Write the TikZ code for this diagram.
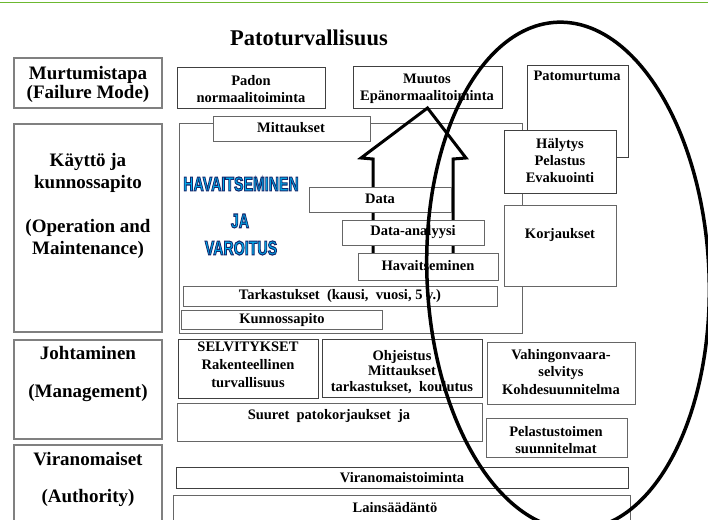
\documentclass[tikz,border=0pt]{standalone}
\usepackage{fontspec}
\usepackage{graphicx}
\setmainfont{Liberation Serif}
\newfontfamily\wafont{Liberation Sans}
\definecolor{topgreen}{RGB}{108,184,48}
\definecolor{wafill}{RGB}{0,176,240}
\definecolor{waline}{RGB}{20,40,110}
\definecolor{sidegray}{RGB}{128,128,128}
\newcommand\wordart[1]{\scalebox{0.71}[1]{\color{wafill}%
  \special{pdf:literal direct 0.08 0.16 0.43 RG 1.1 w 2 Tr}#1\special{pdf:literal direct 0 Tr}}}
\newcommand\bx[6][box]{\node[#1,minimum width={#5-#3},minimum height={#6-#4}] (#2) at (#3,#4) {};}
\begin{document}
\begin{tikzpicture}[x=1pt,y=-1pt,
  box/.style={draw=black!75,line width=0.8pt,fill=white,inner sep=0pt,outer sep=0pt,anchor=north west},
  sidebox/.style={box,draw=sidegray,line width=1.4pt},
  softbox/.style={box,draw=black!60},
  txt/.style={font=\bfseries\fontsize{14.5}{17.5}\selectfont,align=center,inner sep=0pt},
  sidetxt/.style={font=\bfseries\fontsize{19}{19}\selectfont,align=center,inner sep=0pt},
  watxt/.style={font=\wafont\bfseries\fontsize{20}{20}\selectfont,inner sep=0pt},
  bigarrow/.style={draw=black,line width=3pt,line join=miter},
  ring/.style={draw=black,line width=3.5pt}]
\useasboundingbox (0,0) rectangle (708,519);
\fill[white] (0,0) rectangle (708,519);
% top rule
\draw[topgreen,line width=1.5pt] (0,2.5) -- (708,2.5);
% title
\node[font=\bfseries\fontsize{22.5}{24}\selectfont,inner sep=0pt] (title) at (309,38) {Patoturvallisuus};
% left column
\bx[sidebox]{fm}{14}{58}{162}{108}
\node[sidetxt] (fm-t) at (88,84) {Murtumistapa\\(Failure Mode)};
\bx[sidebox]{om}{14}{124}{162}{332}
\node[sidetxt,font=\bfseries\fontsize{19}{22}\selectfont] (om-t) at (88,206) {Käyttö ja\\kunnossapito\\[22pt](Operation and\\Maintenance)};
\bx[sidebox]{mg}{14}{340}{162}{439}
\node[sidetxt] (mg-t) at (88,374) {Johtaminen\\[19pt](Management)};
\bx[sidebox]{au}{14}{445}{162}{530}
\node[sidetxt,font=\bfseries\fontsize{19}{18.5}\selectfont] (au-t) at (88,479) {Viranomaiset\\[18.5pt](Authority)};
% top row
\bx{padon}{177}{67}{325}{108}
\node[txt] (padon-t) at (251,89) {Padon\\normaalitoiminta};
\bx{muutos}{353}{66}{502}{108}
\node[txt] (muutos-t) at (427,89) {Muutos\\Epänormaalitoiminta};
\bx{pato}{527}{65}{628}{157}
\node[txt,anchor=north] (pato-t) at (577,71) {Patomurtuma};
% operation container
\bx[softbox]{cont}{179}{123}{522}{333}
\bx[softbox]{mitt}{213}{116}{370}{141}
\node[txt] (mitt-t) at (291,128) {Mittaukset};
\bx{haly}{504}{130}{616}{193}
\node[txt,font=\bfseries\fontsize{14.5}{17}\selectfont] (haly-t) at (560,161) {Hälytys\\Pelastus\\Evakuointi};
\bx[softbox]{korj}{504}{205}{616}{286}
\node[txt] (korj-t) at (560,235) {Korjaukset};
% word art
\node[watxt] (wa1) at (241,184) {\wordart{HAVAITSEMINEN}};
\node[watxt] (wa2) at (240,221) {\wordart{JA}};
\node[watxt] (wa3) at (241,248) {\wordart{VAROITUS}};
% big arrow
\coordinate (aL) at (373,256);
\coordinate (aR) at (453,256);
\draw[bigarrow] (aL) -- (373,159) -- (361,158) -- (muutos.south) -- (466,158) -- (453,159) -- (aR);
\bx[softbox]{data}{309}{187}{451}{212}
\node[txt] (data-t) at (380,199) {Data};
\bx[softbox]{dana}{342}{220}{484}{245}
\node[txt] (dana-t) at (413,232) {Data-analyysi};
\bx[softbox]{hav}{358}{253}{498}{280}
\node[txt] (hav-t) at (428,266) {Havaitseminen};
\bx[softbox]{tark}{183}{286}{497}{306}
\node[txt] (tark-t) at (340,296) {Tarkastukset\ \ (kausi,\ \ vuosi, 5 v.)};
\bx[softbox]{kunn}{181}{310}{382}{329}
\node[txt] (kunn-t) at (282,320) {Kunnossapito};
% management row
\bx{selv}{178}{339}{318}{398}
\node[txt,font=\bfseries\fontsize{14.5}{18}\selectfont] (selv-t) at (248,365) {SELVITYKSET\\Rakenteellinen\\turvallisuus};
\bx{ohje}{322}{339}{482}{397}
\node[txt,font=\bfseries\fontsize{14.5}{15.5}\selectfont] (ohje-t) at (402,372) {Ohjeistus\\Mittaukset\\tarkastukset,\ \ koulutus};
\bx[softbox]{vahi}{487}{342}{635}{404}
\node[txt,font=\bfseries\fontsize{14.5}{17.5}\selectfont] (vahi-t) at (561,372) {Vahingonvaara-\\selvitys\\Kohdesuunnitelma};
\bx[softbox]{suur}{177}{403}{482}{441}
\node[txt] (suur-t) at (329,416) {Suuret\ \ patokorjaukset\ \ ja};
\bx[softbox]{pela}{486}{418}{627}{457}
\node[txt] (pela-t) at (556,440) {Pelastustoimen\\suunnitelmat};
% authority row
\bx{vira}{176}{467}{628}{488}
\node[txt] (vira-t) at (402,478) {Viranomaistoiminta};
\bx[softbox]{lain}{173}{495}{630}{530}
\node[txt] (lain-t) at (395,508) {Lainsäädäntö};
% ellipse
\draw[ring,rotate around={2.5:(568,276)}] (568,276) ellipse [x radius=141pt,y radius=254pt];
\end{tikzpicture}
\end{document}
